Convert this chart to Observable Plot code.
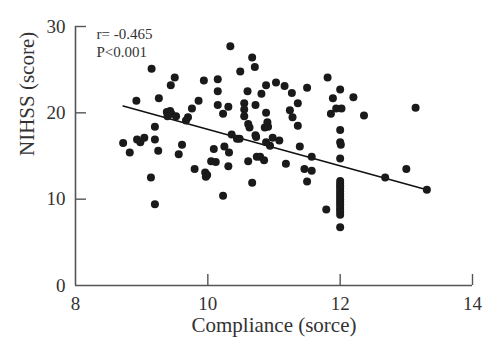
<!DOCTYPE html>
<html>
<head>
<meta charset="utf-8">
<script src="https://cdn.jsdelivr.net/npm/d3@7"></script>
<script src="https://cdn.jsdelivr.net/npm/@observablehq/plot@0.6"></script>
<style>
  html, body { margin: 0; padding: 0; background: #fff; }
  #chart { width: 500px; height: 361px; }
</style>
</head>
<body>
<div id="chart"></div>
<script>
// Compliance score (x) and NIHSS score (y) for each patient
const compliance = [
  8.72, 8.82, 8.92, 8.93, 8.98, 9.04, 9.14, 9.15, 9.20, 9.20, 9.20, 9.25, 9.26, 9.44, 9.50,
  9.38, 9.43, 9.39, 9.52, 9.45, 9.56, 9.61, 9.67, 9.70, 9.76, 9.80, 9.86, 9.94,
  9.96, 9.99, 9.97, 10.05, 10.12, 10.09, 10.15, 10.15, 10.15, 10.23, 10.31, 10.25, 10.32, 10.31,
  10.23, 10.34, 10.36, 10.44, 10.48, 10.49, 10.55, 10.55, 10.55, 10.60, 10.61, 10.63, 10.61,
  10.67, 10.71, 10.72, 10.72, 10.73, 10.74, 10.79, 10.85, 10.67, 10.81, 10.88, 10.88, 10.88,
  10.90, 10.86, 10.91, 10.94, 10.98, 11.03, 11.08, 11.16, 11.18, 11.24, 11.27, 11.28, 11.36,
  11.36, 11.39, 11.46, 11.50, 11.50, 11.57, 11.57, 11.79, 11.81, 11.86, 11.89, 11.94, 12.02,
  12.00, 12.00, 12.00, 12.01, 12.00,
  12.00, 12.00, 12.00, 12.00, 12.00, 12.00, 12.00, 12.00, 12.00, 12.00, 12.00, 12.00, 12.00, 12.00,
  12.00, 12.20, 12.36, 12.68, 13.00, 13.14, 13.31
];
const nihss = [
  16.5, 15.4, 21.4, 16.9, 16.6, 17.1, 12.5, 25.1, 18.4, 16.9, 9.4, 15.6, 21.7, 23.2, 24.1,
  20.1, 20.2, 19.6, 19.6, 19.9, 15.2, 16.3, 19.1, 19.5, 20.5, 13.5, 21.4, 23.75,
  13.1, 12.8, 12.6, 14.4, 14.3, 15.8, 23.9, 22.5, 20.9, 19.9, 20.7, 16.1, 15.4, 13.8,
  10.4, 27.7, 17.5, 17.0, 17.0, 24.8, 21.1, 20.4, 19.6, 22.5, 18.7, 18.3, 14.4,
  26.4, 25.3, 20.9, 17.4, 17.2, 14.9, 14.9, 14.5, 11.9, 22.2, 23.2, 20.0, 16.6,
  18.9, 18.3, 18.4, 16.2, 17.1, 23.5, 16.8, 23.1, 14.1, 20.3, 22.3, 19.5, 21.1,
  18.5, 16.1, 13.5, 22.9, 12.05, 14.9, 13.3, 8.8, 24.1, 19.9, 21.7, 20.5, 20.5,
  22.7, 18.0, 16.6, 16.3, 14.7,
  12.1, 11.8, 11.5, 11.2, 10.9, 10.6, 10.3, 10.0, 9.7, 9.4, 9.1, 8.8, 8.5, 8.2,
  6.75, 21.8, 19.7, 12.5, 13.5, 20.6, 11.1
];
// Fitted regression line end points
const fitX = [8.72, 13.31];
const fitY = [20.8, 11.1];
const xTicks = [8, 10, 12, 14];
const yTicks = [0, 10, 20, 30];
const statsLines = ["r= -0.465", "P<0.001"];
const xLabel = "Compliance (sorce)";
const yLabel = "NIHSS (score)";

const points = compliance.map((x, i) => ({x, y: nihss[i]}));
const fit = fitX.map((x, i) => ({x, y: fitY[i]}));

const axisColor = "#555";
const textColor = "#333";
const W = 500, H = 361, ML = 75, MR = 28, MT = 26, MB = 76;
const tickLen = 11;

const chart = Plot.plot({
  width: W,
  height: H,
  marginLeft: ML,
  marginRight: MR,
  marginTop: MT,
  marginBottom: MB,
  style: {fontFamily: "'Liberation Serif', 'DejaVu Serif', serif", background: "#fff", color: textColor},
  x: {domain: [8, 14]},
  y: {domain: [0, 30]},
  marks: [
    Plot.axisX({ticks: xTicks, tickFormat: "d", tickSize: 0, tickPadding: 11, fontSize: 19, fill: textColor, label: null}),
    Plot.axisY({ticks: yTicks, tickFormat: "d", tickSize: 0, tickPadding: 10, fontSize: 19, fill: textColor, label: null}),
    // inward tick marks
    Plot.gridX(xTicks.slice(1), {stroke: axisColor, strokeOpacity: 1, strokeWidth: 1.4, insetTop: (H - MT - MB) - tickLen}),
    Plot.gridY(yTicks.slice(1), {stroke: axisColor, strokeOpacity: 1, strokeWidth: 1.4, insetRight: (W - ML - MR) - tickLen}),
    Plot.ruleY([0], {stroke: axisColor, strokeWidth: 1.6}),
    Plot.ruleX([8], {stroke: axisColor, strokeWidth: 1.6}),
    Plot.line(fit, {x: "x", y: "y", stroke: "#111", strokeWidth: 1.5}),
    Plot.dot(points, {x: "x", y: "y", r: 4, fill: "#1a1a1a", stroke: "none"}),
    Plot.text([statsLines.join("\n")], {frameAnchor: "top-left", dx: 21, dy: -1, lineAnchor: "top", lineHeight: 1.22, textAnchor: "start", fontSize: 15, fill: textColor}),
    Plot.text([xLabel], {frameAnchor: "bottom", dy: 46, fontSize: 21, fill: textColor}),
    Plot.text([yLabel], {frameAnchor: "left", dx: -48, rotate: -90, fontSize: 21, fill: textColor})
  ]
});
document.getElementById("chart").appendChild(chart);
</script>
</body>
</html>
